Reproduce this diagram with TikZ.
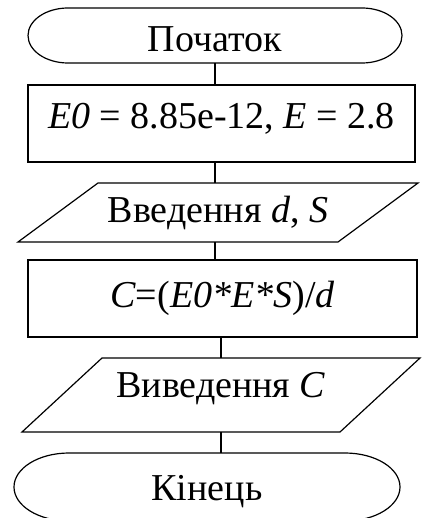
\documentclass[tikz,border=0pt]{standalone}
\usepackage{fontspec}
\setmainfont{Liberation Serif}
\usetikzlibrary{positioning}

\begin{document}
\begin{tikzpicture}[x=1pt,y=-1pt,line width=1.2pt,
  every node/.style={font=\fontsize{38pt}{44pt}\selectfont,inner sep=0pt,outer sep=0pt},
  block/.style={rectangle,draw,minimum width=#1,minimum height=77pt},
  shape/.style={rectangle,minimum width=#1}]

  \useasboundingbox (0,0) rectangle (421,518);

  % nodes
  \node[shape=374pt,minimum height=55pt,text height=33pt] (start) at (215,35.5) {Початок};
  \node[block=387pt,text depth=16pt] (init) at (221.5,123.5) {\textit{E0} = 8.85e-12, \textit{E} = 2.8};
  \node[shape=400pt,minimum height=59pt] (input) at (218,212.5) {Введення \textit{d}, \textit{S}};
  \node[block=389pt] (calc) at (222.5,298.5) {\textit{C}=(\textit{E0*E*S})/\textit{d}};
  \node[shape=398pt,minimum height=74pt,text depth=21pt] (output) at (221,395) {Виведення \textit{C}};
  \node[shape=386pt,minimum height=68pt,text height=35pt] (stop) at (207,487) {Кінець};

  % terminators
  \draw ([xshift=40pt]start.north west) -- ([xshift=-40pt]start.north east)
    arc[start angle=90,end angle=-90,x radius=40pt,y radius=27.5pt]
    -- ([xshift=40pt]start.south west)
    arc[start angle=270,end angle=90,x radius=40pt,y radius=27.5pt] -- cycle;
  \draw ([xshift=55pt]stop.north west) -- ([xshift=-55pt]stop.north east)
    arc[start angle=90,end angle=-90,x radius=55pt,y radius=34pt]
    -- ([xshift=55pt]stop.south west)
    arc[start angle=270,end angle=90,x radius=55pt,y radius=34pt] -- cycle;

  % input / output
  \draw (input.south west) -- ([xshift=-80pt]input.south east) -- (input.north east)
    -- ([xshift=80pt]input.north west) -- cycle;
  \draw (output.south west) -- ([xshift=-80pt]output.south east) -- (output.north east)
    -- ([xshift=80pt]output.north west) -- cycle;

  % flow lines
  \draw (start.south) -- (start.south |- init.north);
  \draw (start.south |- init.south) -- (start.south |- input.north);
  \draw (start.south |- input.south) -- (start.south |- calc.north);
  \draw (output.north |- calc.south) -- (output.north);
  \draw (output.south) -- (output.south |- stop.north);
\end{tikzpicture}
\end{document}
